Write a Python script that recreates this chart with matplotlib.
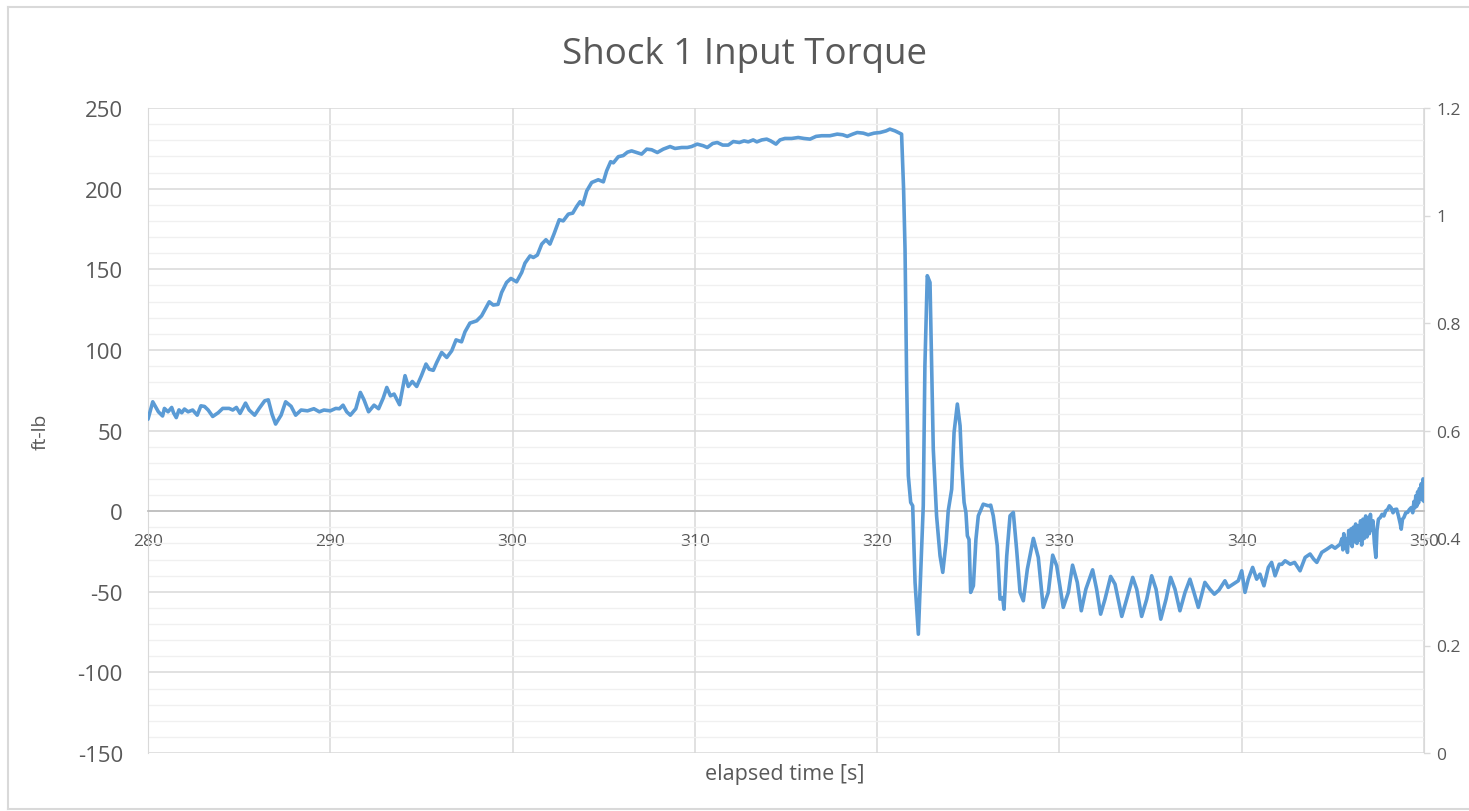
import matplotlib
matplotlib.use("Agg")
import matplotlib.pyplot as plt
from matplotlib.lines import Line2D
from matplotlib.ticker import MultipleLocator, FixedLocator, FuncFormatter

plt.rcParams['font.family'] = ['Open Sans', 'DejaVu Sans']
plt.rcParams['axes.unicode_minus'] = False

# Input torque trace for shock 1
time_s = [
    280.0, 280.26, 280.57, 280.8, 280.9, 281.1, 281.3, 281.4, 281.55, 281.7,
    281.85, 282.0, 282.2, 282.45, 282.7, 282.9, 283.1, 283.3, 283.55, 283.85,
    284.1, 284.45, 284.65, 284.85, 285.05, 285.35, 285.55, 285.85, 286.1, 286.4,
    286.6, 286.8, 287.0, 287.3, 287.55, 287.85, 288.1, 288.4, 288.75, 289.1,
    289.4, 289.65, 290.0, 290.3, 290.5, 290.7, 290.9, 291.1, 291.4, 291.65,
    291.85, 292.1, 292.4, 292.65, 292.9, 293.1, 293.3, 293.5, 293.8, 294.1,
    294.28, 294.5, 294.74, 295.0, 295.25, 295.43, 295.65, 295.84, 296.11, 296.39,
    296.66, 296.9, 297.2, 297.39, 297.66, 298.03, 298.3, 298.72, 298.94, 299.2,
    299.4, 299.67, 299.91, 300.22, 300.5, 300.68, 300.96, 301.14, 301.36, 301.6,
    301.83, 302.05, 302.27, 302.56, 302.78, 303.06, 303.3, 303.52, 303.7, 303.85,
    304.07, 304.34, 304.7, 304.98, 305.16, 305.38, 305.53, 305.8, 306.07, 306.3,
    306.53, 306.8, 307.08, 307.36, 307.63, 307.94, 308.27, 308.64, 308.91, 309.28,
    309.59, 309.82, 310.13, 310.46, 310.68, 310.98, 311.23, 311.53, 311.83, 312.11,
    312.44, 312.7, 312.93, 313.2, 313.4, 313.67, 313.94, 314.16, 314.45, 314.67,
    314.94, 315.31, 315.67, 315.99, 316.32, 316.65, 316.96, 317.41, 317.81, 318.11,
    318.36, 318.66, 318.91, 319.24, 319.51, 319.83, 320.16, 320.49, 320.7, 320.98,
    321.34, 321.45, 321.53, 321.62, 321.71, 321.84, 321.95, 322.08, 322.26, 322.44,
    322.53, 322.62, 322.75, 322.9, 323.08, 323.26, 323.45, 323.6, 323.78, 323.9,
    324.09, 324.22, 324.4, 324.55, 324.64, 324.77, 324.87, 324.95, 325.04, 325.13,
    325.28, 325.42, 325.55, 325.82, 326.1, 326.23, 326.37, 326.59, 326.74, 326.89,
    326.96, 327.11, 327.29, 327.47, 327.65, 327.84, 328.02, 328.24, 328.57, 328.84,
    329.11, 329.39, 329.63, 329.85, 330.21, 330.49, 330.72, 330.98, 331.2, 331.45,
    331.82, 332.04, 332.26, 332.5, 332.81, 333.05, 333.42, 333.69, 334.02, 334.24,
    334.51, 334.79, 335.06, 335.3, 335.56, 335.85, 336.1, 336.34, 336.61, 336.89,
    337.16, 337.38, 337.62, 337.98, 338.25, 338.5, 338.75, 339.08, 339.26, 339.54,
    339.81, 340.0, 340.18, 340.36, 340.6, 340.82, 341.0, 341.22, 341.46, 341.64,
    341.83, 342.06, 342.2, 342.38, 342.66, 342.9, 343.2, 343.48, 343.75, 343.95,
    344.12, 344.39, 344.67, 344.94, 345.12, 345.4, 345.5, 345.55, 345.6, 345.65,
    345.72, 345.8, 345.87, 345.93, 346.0, 346.06, 346.12, 346.18, 346.25, 346.32,
    346.38, 346.45, 346.52, 346.58, 346.65, 346.72, 346.8, 346.87, 346.93, 347.0,
    347.06, 347.12, 347.2, 347.28, 347.36, 347.42, 347.5, 347.6, 347.7, 347.8,
    347.9, 348.0, 348.1, 348.2, 348.3, 348.4, 348.5, 348.6, 348.7, 348.75,
    348.82, 348.9, 349.0, 349.1, 349.2, 349.3, 349.38, 349.45, 349.5, 349.55,
    349.6, 349.65, 349.7, 349.75, 349.8, 349.85, 349.9, 349.95, 350.0,
]

torque_ftlb = [
    57, 67.8, 61.6, 59, 63.7, 61.6, 64.3, 61, 58, 62.8,
    61, 63.3, 61.6, 62.7, 59.5, 65.3, 64.9, 62.7, 58.7, 61,
    63.7, 63.7, 62.7, 64.3, 60.6, 67, 62.7, 59.5, 63.7, 68.4,
    69, 60.2, 54, 59.5, 67.8, 65, 59.5, 62.7, 62.2, 63.5,
    61.6, 62.7, 62.2, 63.7, 63.5, 65.7, 61.6, 59.5, 63.5, 73.6,
    69, 61.6, 65.7, 63.5, 70, 76.7, 71.5, 72.6, 66, 84,
    77.3, 80.4, 77.3, 84, 91.2, 88, 87.3, 92.2, 98.4, 95.3,
    99.4, 106.2, 105, 111.2, 116.6, 118, 121.1, 129.8, 127.8, 128.2,
    135.6, 141.8, 144.3, 142.2, 148, 153.8, 158.3, 157.3, 158.8, 165.6,
    168.3, 165.6, 171.8, 180.7, 180, 184.2, 184.8, 189, 191.9, 190,
    198.6, 203.8, 205.5, 204.2, 211, 216.7, 216, 219.8, 220.5, 222.6,
    223.4, 222.4, 221.4, 224.5, 224.1, 222.4, 224.5, 226.1, 224.9, 225.5,
    225.5, 226.1, 227.6, 226.6, 225.5, 228, 228.6, 227, 227, 229.2,
    228.6, 229.6, 229, 230.2, 229, 230.2, 230.7, 229.6, 227.6, 230.2,
    231.1, 231.1, 231.7, 231.1, 230.7, 232.4, 232.8, 232.8, 233.8, 233.4,
    232.4, 233.8, 234.8, 234.4, 233.4, 234.4, 234.8, 235.8, 236.9, 235.8,
    233.8, 200, 162.5, 79.8, 21.9, 5.4, 3.3, -44.2, -76.3, -23.6,
    3.3, 90.1, 146, 141.8, 38.4, -2.9, -27.7, -38, -19.4, 0.2,
    13.6, 48.8, 66.4, 52.9, 28.1, 5.4, -0.8, -15.3, -17.6, -50.4,
    -46.3, -17.4, -2.9, 4.3, 3.3, 3.7, -2.9, -21.5, -54.6, -53.6,
    -60.8, -27.7, -2.9, -0.8, -23.6, -50.4, -55.6, -36, -16.9, -28.7,
    -59.7, -50.4, -27.3, -33.9, -59.7, -50.4, -33.5, -44.2, -61.8, -48.4,
    -36.4, -48.4, -63.9, -54.6, -40.5, -45.3, -65.3, -54.6, -41.1, -48.4,
    -65.3, -54.6, -40.1, -48.4, -67, -54.6, -41.1, -48.4, -61.8, -50.4,
    -42.2, -50.4, -59.7, -44.2, -48.4, -51.5, -49, -43.2, -47.3, -45.2,
    -43.2, -37, -50.4, -42.2, -34.9, -42.2, -39.1, -46.3, -34.9, -31.8,
    -40.1, -32.9, -33, -30.8, -32.9, -31.8, -37, -28.7, -26.6, -29.8,
    -31.8, -25.6, -23.6, -21.5, -23, -20.5, -17, -24, -14, -23,
    -17, -25.6, -12, -20, -11, -22, -10, -19, -8, -20,
    -9, -18, -6, -21, -5, -17, -3, -16, -4, -14,
    -2, -12, -6, -20, -28.7, -12, -5, -4, -2, -3,
    0.2, 1, 3.3, 2, -1, 1, 1.2, -3, -8, -11.2,
    -5, -3.9, -1, -0.8, 1, 2.2, -1, 6, 2, 9.5,
    3, 12, 5, 14, 8, 17, 7, 20, 6,
]

x_ticks = [280, 290, 300, 310, 320, 330, 340, 350]
left_ticks = [-150, -100, -50, 0, 50, 100, 150, 200, 250]
right_ticks = [0, 0.2, 0.4, 0.6, 0.8, 1.0, 1.2]

TEXT = '#595959'
LINE = '#5B9BD5'
GRID = '#D9D9D9'
MINOR = '#F0F0F0'

fig = plt.figure(figsize=(14.69, 8.12), dpi=100)
fig.patch.set_facecolor('white')
ax = fig.add_axes([148 / 1469, 1 - 754 / 812, (1424 - 148) / 1469, (754 - 109) / 812])

ax.plot(time_s, torque_ftlb, color=LINE, lw=2.6, solid_joinstyle='round',
        solid_capstyle='round', zorder=3)

ax.set_xlim(280, 350)
ax.set_ylim(-150, 250)
ax.xaxis.set_major_locator(FixedLocator(x_ticks))
ax.yaxis.set_major_locator(FixedLocator(left_ticks))
ax.yaxis.set_minor_locator(MultipleLocator(10))

ax.grid(which='major', axis='both', color=GRID, lw=1.1, zorder=0)
ax.grid(which='minor', axis='y', color=MINOR, lw=1.0, zorder=0)
ax.set_axisbelow(True)

# horizontal category axis crosses at zero
ax.spines['bottom'].set_position(('data', 0))
ax.spines['bottom'].set_color('#BFBFBF')
ax.spines['bottom'].set_linewidth(1.3)
ax.spines['top'].set_visible(False)
ax.spines['left'].set_color(GRID)
ax.spines['right'].set_color(GRID)

ax.tick_params(axis='x', length=0, pad=16, labelsize=12.5, labelcolor=TEXT)
ax.tick_params(axis='y', which='both', length=0, pad=18, labelsize=16, labelcolor=TEXT)

ax2 = ax.twinx()
ax2.set_ylim(0, 1.2)
ax2.yaxis.set_major_locator(FixedLocator(right_ticks))
ax2.yaxis.set_major_formatter(FuncFormatter(lambda v, p: f'{v:g}'))
ax2.tick_params(axis='y', length=4, width=1, color=GRID, pad=5, labelsize=12.5, labelcolor=TEXT)
for s in ax2.spines.values():
    s.set_visible(False)

ax.set_ylabel('ft-lb', fontsize=14, color=TEXT, labelpad=20)
fig.text(785 / 1469, 1 - 775 / 812, 'elapsed time [s]', ha='center', va='center',
         fontsize=15.5, color=TEXT)
fig.text(745 / 1469, 1 - 55 / 812, 'Shock 1 Input Torque', ha='center', va='center',
         fontsize=26.5, color=TEXT)

# chart area border
bx0, by0, by1 = 8 / 1469, 1 - 810 / 812, 1 - 8 / 812
for xs, ys in [([bx0, bx0], [by0, by1]), ([bx0, 1.0], [by1, by1]), ([bx0, 1.0], [by0, by0])]:
    fig.add_artist(Line2D(xs, ys, transform=fig.transFigure, color=GRID, lw=1.5))

fig.savefig('out.png', dpi=100, facecolor='white')
